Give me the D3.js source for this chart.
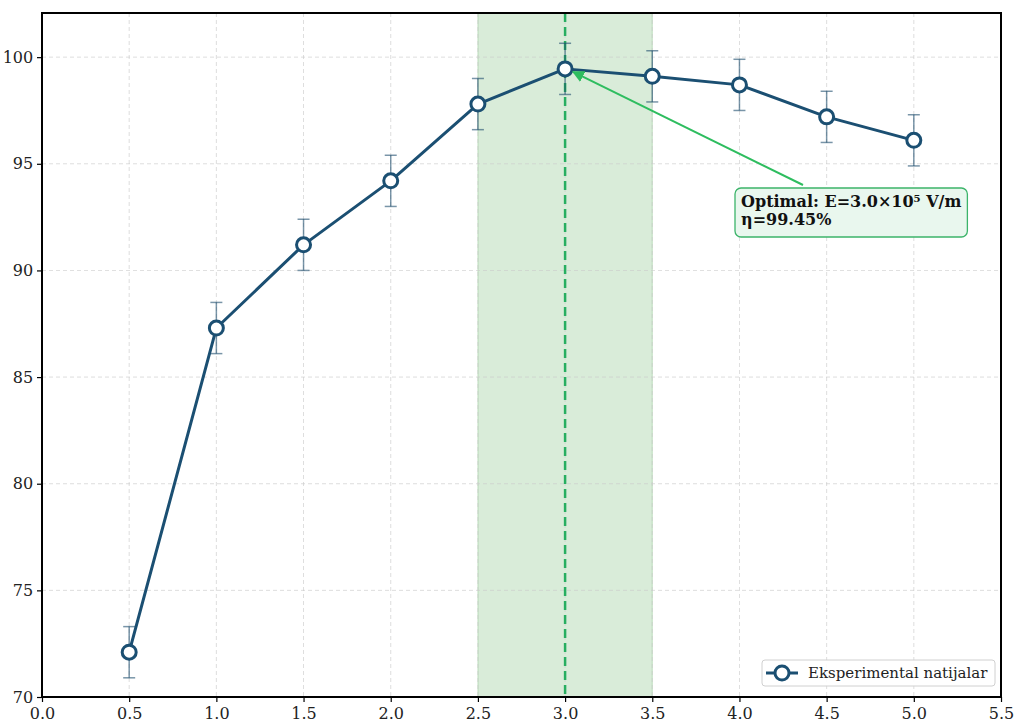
<!DOCTYPE html>
<html><head><meta charset="utf-8">
<script src="https://cdn.jsdelivr.net/npm/d3@7"></script>
<style>body{margin:0;background:#fff}svg{display:block}text{font-family:'DejaVu Serif',serif}</style>
</head><body>
<script>
const fieldE = [0.5, 1.0, 1.5, 2.0, 2.5, 3.0, 3.5, 4.0, 4.5, 5.0];
const efficiency = [72.1, 87.3, 91.2, 94.2, 97.8, 99.45, 99.1, 98.7, 97.2, 96.1];
const errors = [1.2, 1.2, 1.2, 1.2, 1.2, 1.2, 1.2, 1.2, 1.2, 1.2];
const xTicks = [0.0, 0.5, 1.0, 1.5, 2.0, 2.5, 3.0, 3.5, 4.0, 4.5, 5.0, 5.5];
const yTicks = [70, 75, 80, 85, 90, 95, 100];
const optimalRange = [2.5, 3.5];
const optimalE = 3.0, optimalEta = 99.45;
const seriesName = "Eksperimental natijalar";
const annoLines = ["Optimal: E=3.0×10⁵ V/m", "η=99.45%"];

const W = 1014, H = 721;
const m = {left: 42, right: 13, top: 13, bottom: 24};
const svg = d3.select("body").append("svg").attr("width", W).attr("height", H);
const x = d3.scaleLinear().domain([0, 5.5]).range([m.left, W - m.right]);
const y = d3.scaleLinear().domain([70, 102.07]).range([H - m.bottom, m.top]);

// span
svg.append("rect").attr("x", x(optimalRange[0])).attr("y", m.top)
  .attr("width", x(optimalRange[1]) - x(optimalRange[0])).attr("height", y(70) - m.top)
  .attr("fill", "#008000").attr("fill-opacity", 0.15)
  .attr("stroke", "#008000").attr("stroke-opacity", 0.2).attr("stroke-width", 1);

// grid
const g = svg.append("g");
g.selectAll(".gx").data(xTicks).join("line")
  .attr("x1", d => x(d)).attr("x2", d => x(d)).attr("y1", m.top).attr("y2", y(70))
  .attr("stroke", "#cccccc").attr("stroke-width", 0.8).attr("stroke-dasharray", "4,3").attr("opacity", 0.8);
g.selectAll(".gy").data(yTicks).join("line")
  .attr("y1", d => y(d)).attr("y2", d => y(d)).attr("x1", m.left).attr("x2", W - m.right)
  .attr("stroke", "#cccccc").attr("stroke-width", 0.8).attr("stroke-dasharray", "4,3").attr("opacity", 0.8);

// vertical dashed optimal line
svg.append("line").attr("x1", x(optimalE)).attr("x2", x(optimalE)).attr("y1", m.top).attr("y2", y(70))
  .attr("stroke", "#27ae60").attr("stroke-width", 2.5).attr("stroke-dasharray", "9,5");

// error bars
const data = fieldE.map((e, i) => ({e, v: efficiency[i], err: errors[i]}));
const eb = svg.append("g").attr("stroke", "#1f4e6e").attr("stroke-opacity", 0.6).attr("stroke-width", 1.5);
data.forEach(d => {
  eb.append("line").attr("x1", x(d.e)).attr("x2", x(d.e)).attr("y1", y(d.v - d.err)).attr("y2", y(d.v + d.err));
  eb.append("line").attr("x1", x(d.e) - 6).attr("x2", x(d.e) + 6).attr("y1", y(d.v - d.err)).attr("y2", y(d.v - d.err));
  eb.append("line").attr("x1", x(d.e) - 6).attr("x2", x(d.e) + 6).attr("y1", y(d.v + d.err)).attr("y2", y(d.v + d.err));
});

// line
const lineColor = "#1b4f72";
svg.append("path").datum(data)
  .attr("d", d3.line().x(d => x(d.e)).y(d => y(d.v)))
  .attr("fill", "none").attr("stroke", lineColor).attr("stroke-width", 3).attr("stroke-linejoin", "round");
svg.selectAll(".pt").data(data).join("circle")
  .attr("cx", d => x(d.e)).attr("cy", d => y(d.v)).attr("r", 7)
  .attr("fill", "#fff").attr("stroke", lineColor).attr("stroke-width", 3);

// annotation
const boxX = 735, boxY = 188;
const ag = svg.append("g");
const tx = ag.append("text").attr("font-weight", "bold").attr("font-size", 16).attr("fill", "#111");
annoLines.forEach((t, i) => tx.append("tspan").attr("x", boxX + 6).attr("y", boxY + 19 + i * 18).text(t));
const bb = tx.node().getBBox();
// arrow
const ax0 = boxX + 68, ay0 = boxY - 3;
const ax1 = x(optimalE) + 8, ay1 = y(optimalEta) + 3;
svg.append("defs").append("marker").attr("id", "ah").attr("viewBox", "0 0 10 10").attr("refX", 9).attr("refY", 5)
  .attr("markerWidth", 6).attr("markerHeight", 6).attr("orient", "auto")
  .append("path").attr("d", "M0,0 L10,5 L0,10 z").attr("fill", "#2ebd5f");
ag.insert("line", "text").attr("x1", ax0).attr("y1", ay0).attr("x2", ax1).attr("y2", ay1)
  .attr("stroke", "#2ebd5f").attr("stroke-width", 2).attr("marker-end", "url(#ah)");
ag.insert("rect", "text").attr("x", boxX).attr("y", boxY).attr("width", bb.width + 12).attr("height", 49)
  .attr("rx", 6).attr("fill", "#e9f7ee").attr("stroke", "#3cb46a").attr("stroke-width", 1.3);

// axes
const xAxis = svg.append("g").attr("transform", `translate(0,${y(70)})`)
  .call(d3.axisBottom(x).tickValues(xTicks).tickFormat(d3.format(".1f")).tickSize(5).tickSizeOuter(0));
const yAxis = svg.append("g").attr("transform", `translate(${m.left},0)`)
  .call(d3.axisLeft(y).tickValues(yTicks).tickSize(5).tickSizeOuter(0));
[xAxis, yAxis].forEach(a => {
  a.attr("font-family", null).attr("font-size", null);
  a.select(".domain").remove();
  a.selectAll("text").style("font-family", "'DejaVu Serif', serif").style("font-size", "16px").attr("fill", "#222");
  a.selectAll("line").attr("stroke", "#000").attr("stroke-width", 1.2);
});
xAxis.selectAll("text").attr("dy", "0.9em");
yAxis.selectAll("text").attr("dx", "-0.05em");

svg.append("rect").attr("x", m.left).attr("y", m.top).attr("width", W - m.right - m.left).attr("height", y(70) - m.top)
  .attr("fill", "none").attr("stroke", "#000").attr("stroke-width", 2);

// legend
const lg = svg.append("g");
lg.append("rect").attr("x", 762).attr("y", 660).attr("width", 233).attr("height", 26).attr("rx", 3)
  .attr("fill", "#fff").attr("fill-opacity", 0.9).attr("stroke", "#d0d0d0");
lg.append("line").attr("x1", 766).attr("x2", 798).attr("y1", 673).attr("y2", 673).attr("stroke", lineColor).attr("stroke-width", 3);
lg.append("circle").attr("cx", 782).attr("cy", 673).attr("r", 7).attr("fill", "#fff").attr("stroke", lineColor).attr("stroke-width", 3);
lg.append("text").attr("x", 808).attr("y", 678).attr("font-size", 15).attr("fill", "#222").text(seriesName);
</script>
</body></html>
